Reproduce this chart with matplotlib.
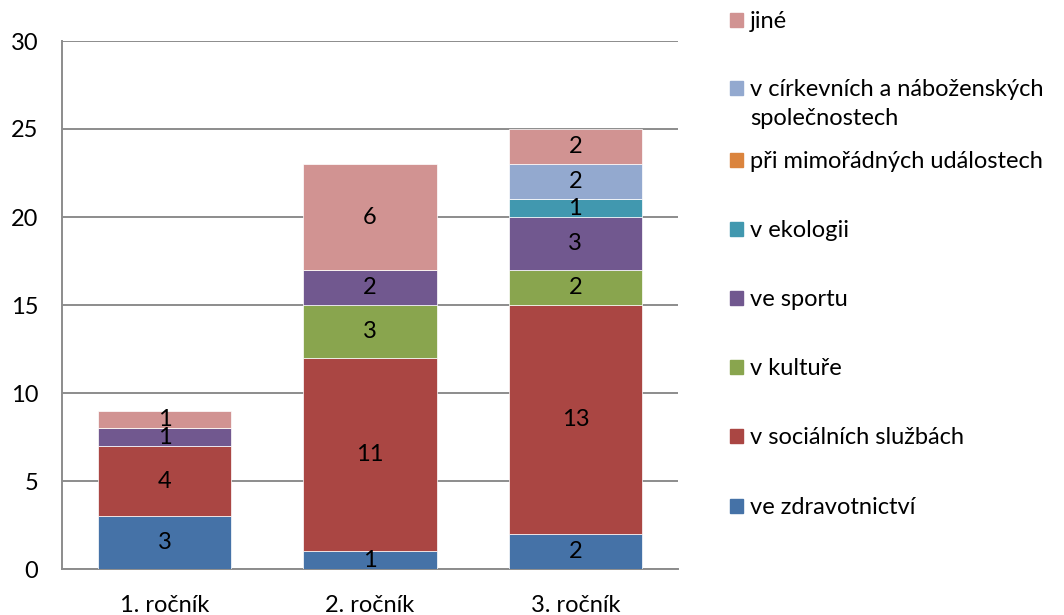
import numpy as np
import matplotlib
matplotlib.use("Agg")
import matplotlib.pyplot as plt
from matplotlib.patches import Rectangle

plt.rcParams['font.family'] = ['Lato', 'DejaVu Sans']

# categories on the x axis
rocniky = ["1. ročník", "2. ročník", "3. ročník"]

# series, bottom to top of the stack
serie = [
    "ve zdravotnictví",
    "v sociálních službách",
    "v kultuře",
    "ve sportu",
    "v ekologii",
    "při mimořádných událostech",
    "v církevních a náboženských\nspolečnostech",
    "jiné",
]
zdravotnictvi = [3, 1, 2]
socialni = [4, 11, 13]
kultura = [0, 3, 2]
sport = [1, 2, 3]
ekologie = [0, 0, 1]
mimoradne = [0, 0, 0]
cirkevni = [0, 0, 2]
jine = [1, 6, 2]

hodnoty = [zdravotnictvi, socialni, kultura, sport, ekologie, mimoradne, cirkevni, jine]
barvy = ["#4572A7", "#AA4643", "#89A54E", "#71588F",
         "#4198AF", "#DB843D", "#93A9CF", "#D19392"]

fs = 17

fig = plt.figure(figsize=(10.64, 6.15), dpi=100)
ax = fig.add_axes([62 / 1064, 1 - 569 / 615, 616 / 1064, 528 / 615])

x = np.arange(len(rocniky))
spodek = np.zeros(len(rocniky))
for vals, barva in zip(hodnoty, barvy):
    vals = np.array(vals, dtype=float)
    bars = ax.bar(x, vals, width=0.65, bottom=spodek, color=barva,
                  edgecolor="white", linewidth=0.5, zorder=3)
    for b, v in zip(bars, vals):
        if v > 0:
            ax.text(b.get_x() + b.get_width() / 2, b.get_y() + v / 2, f"{int(v)}",
                    ha="center", va="center", fontsize=fs, color="black", zorder=4)
    spodek += vals

ax.set_xlim(-0.5, 2.5)
ax.set_ylim(0, 30)
ax.set_yticks(range(0, 31, 5))
ax.set_xticks(x)
ax.set_xticklabels(rocniky)
ax.tick_params(axis="both", length=0, labelsize=fs)
ax.tick_params(axis="x", pad=19)
ax.tick_params(axis="y", pad=17)
ax.yaxis.grid(True, color="#8c8c8c", linewidth=1.4, zorder=0)
ax.set_axisbelow(True)
for s in ["top", "right"]:
    ax.spines[s].set_visible(False)
for s in ["left", "bottom"]:
    ax.spines[s].set_color("#8c8c8c")
    ax.spines[s].set_linewidth(1.4)

# legend, top entry is the last series
leg_y = [20, 88, 160, 229, 298, 367, 436, 506]
for i, (nazev, barva) in enumerate(zip(serie[::-1], barvy[::-1])):
    y = 1 - leg_y[i] / 615
    fig.patches.append(Rectangle((730 / 1064, y - 7 / 615), 13 / 1064, 14 / 615,
                                 transform=fig.transFigure, color=barva))
    fig.text(750 / 1064, y + 9 / 615, nazev, ha="left", va="top",
             fontsize=fs, linespacing=1.45)

fig.savefig("out.png", dpi=100)
